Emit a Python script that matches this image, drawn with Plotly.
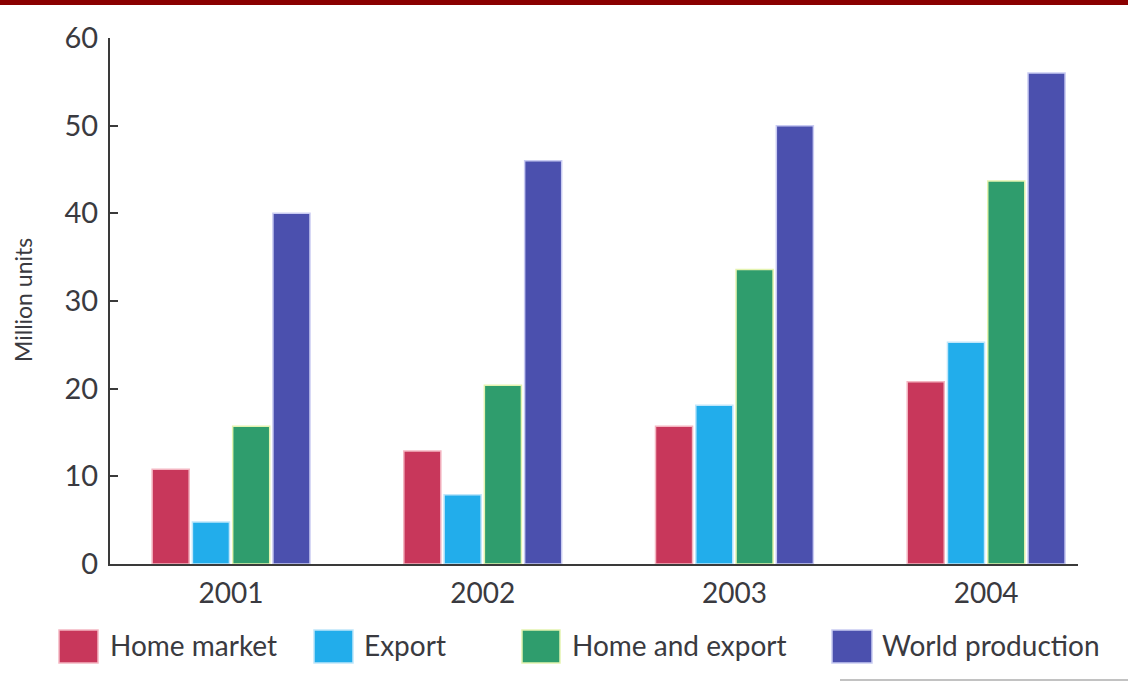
import plotly.graph_objects as go

# Units sold per year, in millions
years = ["2001", "2002", "2003", "2004"]
home_market = [10.8, 12.9, 15.7, 20.8]
export = [4.8, 7.9, 18.1, 25.3]
home_and_export = [15.7, 20.4, 33.6, 43.7]
world_production = [40.0, 46.0, 50.0, 56.0]

series_names = ["Home market", "Export", "Home and export", "World production"]
series_values = [home_market, export, home_and_export, world_production]
series_colors = ["#C8375B", "#22ADEB", "#2F9D6D", "#4B50AE"]
series_edges = ["#F4B6C2", "#BFE6FA", "#E4F3B0", "#C9CBF2"]

FONT = "Lato, 'Open Sans', sans-serif"
TEXT = "#3a3a40"

W, H = 1128, 683
ML, MR, MT, MB = 110, 50, 38, 119
PW, PH = W - ML - MR, H - MT - MB

fig = go.Figure()
for name, vals, col, edge in zip(series_names, series_values, series_colors, series_edges):
    fig.add_trace(go.Bar(
        x=years, y=vals, name=name,
        marker=dict(color=col, line=dict(color=edge, width=1.5)),
        showlegend=False,
    ))

# legend row drawn beneath the axis: swatch left/right and label start in pixels
legend_swatch_px = [(59, 98), (314, 353), (522, 560), (832, 872)]
legend_text_px = [108, 362, 570, 880]
legend_top_px, legend_bottom_px = 630, 663


def px_x(p):
    return (p - ML) / PW


def px_y(p):
    return (H - MB - p) / PH


shapes = []
annotations = []
for (x0, x1), tx, name, col, edge in zip(legend_swatch_px, legend_text_px,
                                         series_names, series_colors, series_edges):
    shapes.append(dict(type="rect", xref="paper", yref="paper",
                       x0=px_x(x0), x1=px_x(x1), y0=px_y(legend_bottom_px), y1=px_y(legend_top_px),
                       fillcolor=col, line=dict(color=edge, width=1.5)))
    annotations.append(dict(text=name, xref="paper", yref="paper",
                            x=px_x(tx), y=px_y(645),
                            xanchor="left", yanchor="middle", showarrow=False,
                            font=dict(family=FONT, size=28, color=TEXT)))

# rotated axis caption
annotations.append(dict(text="Million units", xref="paper", yref="paper",
                        x=px_x(23), y=px_y(300), textangle=-90,
                        xanchor="center", yanchor="middle", showarrow=False,
                        font=dict(family=FONT, size=23, color=TEXT)))

# dark red band along the top edge
shapes.append(dict(type="rect", xref="paper", yref="paper",
                   x0=px_x(0), x1=px_x(W), y0=px_y(5), y1=px_y(0),
                   fillcolor="#8A0000", line=dict(width=0)))
# faint page edge at the lower right
shapes.append(dict(type="line", xref="paper", yref="paper",
                   x0=px_x(840), x1=px_x(W), y0=px_y(680), y1=px_y(680),
                   line=dict(color="rgba(120,120,120,0.45)", width=2)))

fig.update_layout(
    width=W, height=H,
    margin=dict(l=ML, r=MR, t=MT, b=MB, pad=0),
    paper_bgcolor="white", plot_bgcolor="white",
    barmode="group", bargap=0.36, bargroupgap=0.08,
    font=dict(family=FONT, color=TEXT),
    shapes=shapes, annotations=annotations,
    xaxis=dict(
        type="category", range=[-0.481, 3.365],
        showline=True, linecolor="#3a3a3a", linewidth=2,
        showgrid=False, ticks="", tickfont=dict(size=28, color=TEXT),
        ticklabelstandoff=3, fixedrange=True,
    ),
    yaxis=dict(
        range=[0, 60], tickvals=[0, 10, 20, 30, 40, 50, 60],
        showline=True, linecolor="#3a3a3a", linewidth=2,
        showgrid=False, zeroline=False,
        ticks="inside", ticklen=8, tickwidth=2, tickcolor="#3a3a3a",
        tickfont=dict(size=29, color=TEXT), ticklabelstandoff=4,
        fixedrange=True,
    ),
)

fig.write_html("out.html")
